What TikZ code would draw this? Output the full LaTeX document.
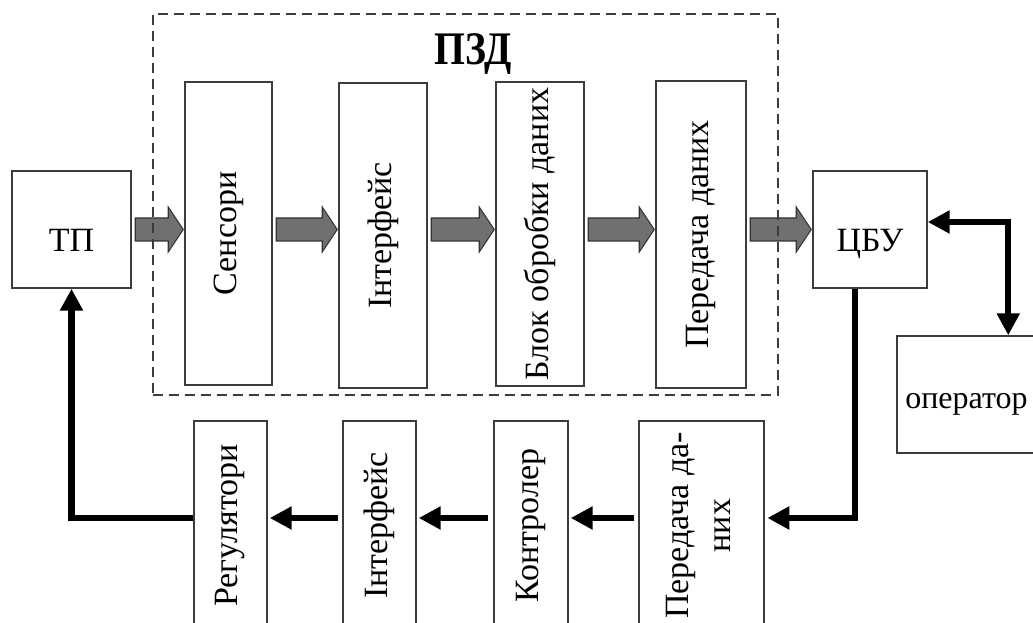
\documentclass[tikz,border=0pt]{standalone}
\usepackage{fontspec}
\setmainfont{Liberation Serif}
\usetikzlibrary{arrows.meta,calc}
\definecolor{boxline}{RGB}{60,60,60}
\definecolor{gfill}{RGB}{112,112,112}
\definecolor{gline}{RGB}{50,50,50}
\newcommand\garrow[2]{%
  \filldraw[fill=gfill,draw=gline,line width=0.8pt,line join=miter]
    ($(#1.east|-tp.center)+(3.5,-11.5)$) --
    ($(#2.west|-tp.center)+(-16,-11.5)$) --
    ($(#2.west|-tp.center)+(-16,-22.5)$) --
    ($(#2.west|-tp.center)+(-1,0)$) --
    ($(#2.west|-tp.center)+(-16,22.5)$) --
    ($(#2.west|-tp.center)+(-16,11.5)$) --
    ($(#1.east|-tp.center)+(3.5,11.5)$) -- cycle;}
\begin{document}
\begin{tikzpicture}[x=0.75pt,y=-0.75pt,
  box/.style={draw=boxline,line width=1.1pt,fill=white,inner sep=0pt,
    font=\fontsize{25.5}{31.5}\selectfont},
  bx/.style 2 args={minimum width=#1*0.75pt,minimum height=#2*0.75pt},
  txt/.style={inner sep=0pt,font=\fontsize{25.5}{31.5}\selectfont},
  thk/.style={line width=4.6pt,line join=miter,
    arrows={-{Triangle[length=16.5pt,width=16.5pt]}}},
  dbl/.style={line width=4.6pt,line join=miter,
    arrows={{Triangle[length=16.5pt,width=16.5pt]}-{Triangle[length=16.5pt,width=16.5pt]}}},
  dashedbox/.style={draw=boxline,line width=0.9pt,dash pattern=on 7.5pt off 4.5pt,inner sep=0pt}
]
\useasboundingbox (0,0) rectangle (1033,623);
\clip (0,0) rectangle (1033,623);

% top row
\node[box,bx={119}{117}] (tp) at (71.5,229.5) {};
\node[txt,anchor=base] (tptxt) at (71.5,252) {ТП};
\node[box,bx={87}{303}] (sens) at (228.5,233.5) {\rotatebox{90}{Сенсори}};
\node[box,bx={88}{305}] (int1) at (383,235.5) {\rotatebox{90}{Інтерфейс}};
\node[box,bx={88}{304}] (blok) at (540,234) {\rotatebox{90}{Блок обробки даних}};
\node[box,bx={90}{307}] (per1) at (701,234.5) {\rotatebox{90}{Передача даних}};
\node[box,bx={114}{117}] (cbu) at (870,229.5) {};
\node[txt,anchor=base] (cbutxt) at (870,251.5) {ЦБУ};
\node[box,bx={153}{117}] (op) at (973.5,394.5) {};
\node[inner sep=0pt,anchor=base west,font=\fontsize{24}{30}\selectfont] (optxt) at (905,409) {оператор};

% bottom row
\node[box,bx={73}{209}] (reg) at (230.5,525.5) {\rotatebox{90}{Регулятори}};
\node[box,bx={73}{209}] (int2) at (379.5,525.5) {\rotatebox{90}{Інтерфейс}};
\node[box,bx={74}{209}] (kon) at (531,525.5) {\rotatebox{90}{Контролер}};
\node[box,bx={125}{209}] (per2) at (701.5,525.5)
  {\rotatebox{90}{\begin{tabular}{@{}c@{}}Передача да-\\них\end{tabular}}};

% grey block arrows
\garrow{tp}{sens}
\garrow{sens}{int1}
\garrow{int1}{blok}
\garrow{blok}{per1}
\garrow{per1}{cbu}

% dashed group
\node[dashedbox,bx={625}{381}] (pzdbox) at (465.5,204.5) {};
\node[inner sep=0pt,anchor=base,font=\fontsize{35}{40}\selectfont\bfseries] (pzd) at (473,65) {\scalebox{0.85}[1]{ПЗД}};

% black arrows
\coordinate (row) at (0,518);
\draw[thk,shorten <=3pt,shorten >=1.5pt] (per2.west|-row) -- (kon.east|-row);
\draw[thk,shorten <=4pt,shorten >=1.5pt] (kon.west|-row) -- (int2.east|-row);
\draw[thk,shorten <=3.5pt,shorten >=1.5pt] (int2.west|-row) -- (reg.east|-row);
\draw[thk] (reg.west|-row) -| (tp.south);
\draw[thk,shorten >=2pt] ($(cbu.south)+(-15,0)$) |- (per2.east|-row);
\draw[dbl] ($(cbu.east)+(0,-7.5)$) -| ($(op.north west)+(112,0)$);
\end{tikzpicture}
\end{document}
